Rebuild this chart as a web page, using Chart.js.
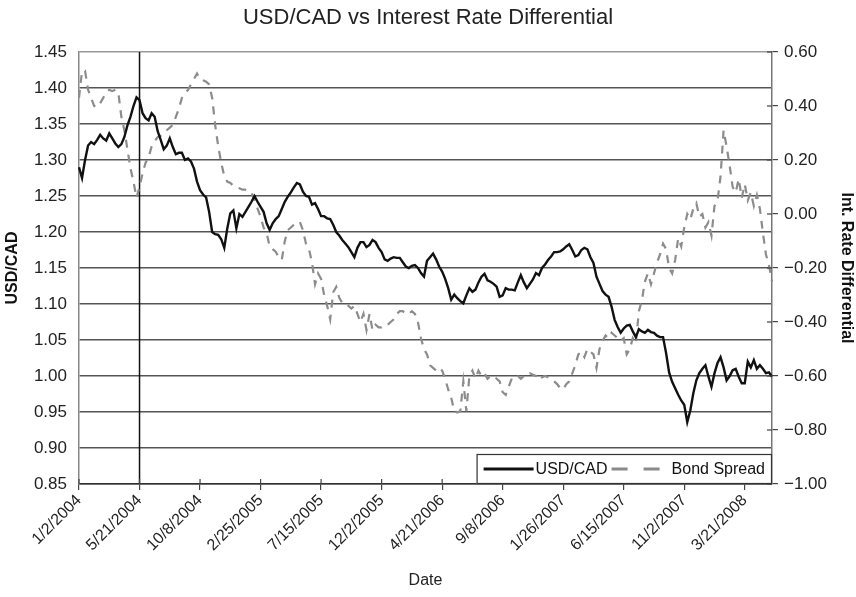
<!DOCTYPE html>
<html>
<head>
<meta charset="utf-8">
<script src="https://cdn.jsdelivr.net/npm/chart.js@4.4.1/dist/chart.umd.min.js"></script>
<style>
  html, body { margin: 0; padding: 0; background: #fff; }
  #wrap { width: 856px; height: 597px; position: relative; }
</style>
</head>
<body>
<div id="wrap"><canvas id="c" width="856" height="597"></canvas></div>
<script>
// ---- Data (weekly, starting 1/2/2004) ----
const startDate = "2004-01-02";
const tickLabels = ["1/2/2004","5/21/2004","10/8/2004","2/25/2005","7/15/2005","12/2/2005",
  "4/21/2006","9/8/2006","1/26/2007","6/15/2007","11/2/2007","3/21/2008"];
const markerLabel = "5/21/2004";

const usdCad = [
  1.290,1.275,1.300,1.320,1.325,1.322,1.328,1.335,1.330,1.327,
  1.337,1.330,1.323,1.318,1.322,1.332,1.348,1.360,1.375,1.387,
  1.383,1.365,1.358,1.355,1.365,1.360,1.340,1.328,1.315,1.320,
  1.330,1.318,1.308,1.310,1.310,1.300,1.302,1.298,1.288,1.270,
  1.258,1.252,1.248,1.228,1.200,1.197,1.196,1.190,1.178,1.205,
  1.226,1.230,1.205,1.225,1.221,1.228,1.235,1.242,1.250,1.242,
  1.235,1.228,1.212,1.203,1.212,1.218,1.222,1.232,1.242,1.249,
  1.255,1.262,1.268,1.266,1.256,1.250,1.249,1.238,1.240,1.232,
  1.222,1.222,1.219,1.218,1.210,1.200,1.195,1.189,1.184,1.179,
  1.172,1.165,1.178,1.186,1.186,1.179,1.182,1.189,1.186,1.178,
  1.172,1.162,1.160,1.163,1.165,1.164,1.164,1.158,1.152,1.150,
  1.153,1.154,1.150,1.143,1.138,1.160,1.165,1.170,1.162,1.152,
  1.145,1.135,1.122,1.106,1.113,1.108,1.104,1.101,1.112,1.122,
  1.117,1.120,1.130,1.138,1.142,1.133,1.131,1.128,1.124,1.110,
  1.112,1.122,1.120,1.120,1.119,1.130,1.140,1.130,1.122,1.128,
  1.134,1.143,1.140,1.150,1.155,1.161,1.166,1.172,1.172,1.173,
  1.176,1.180,1.183,1.175,1.166,1.168,1.175,1.178,1.176,1.165,
  1.157,1.138,1.128,1.118,1.113,1.110,1.096,1.078,1.068,1.060,
  1.066,1.070,1.071,1.062,1.054,1.065,1.062,1.060,1.064,1.061,
  1.060,1.056,1.054,1.054,1.032,1.005,0.992,0.983,0.974,0.966,
  0.960,0.936,0.952,0.976,0.994,1.004,1.010,1.015,0.999,0.985,
  1.004,1.018,1.026,1.012,0.994,1.000,1.008,1.010,0.999,0.990,
  0.990,1.020,1.012,1.022,1.010,1.015,1.010,1.004,1.005,0.999
];

const bondSpread = [
  0.43,0.53,0.53,0.46,0.43,0.40,0.395,0.41,0.43,0.45,
  0.46,0.455,0.46,0.45,0.36,0.31,0.24,0.17,0.12,0.06,
  0.10,0.15,0.19,0.21,0.25,0.27,0.285,0.29,0.30,0.31,
  0.32,0.33,0.36,0.39,0.43,0.445,0.46,0.48,0.50,0.52,
  0.50,0.495,0.49,0.48,0.43,0.33,0.25,0.19,0.14,0.12,
  0.115,0.105,0.10,0.095,0.09,0.09,0.085,0.08,0.05,0.02,
  -0.01,-0.05,-0.07,-0.12,-0.13,-0.14,-0.16,-0.17,-0.10,-0.06,
  -0.05,-0.04,-0.03,-0.03,-0.06,-0.11,-0.13,-0.18,-0.26,-0.22,
  -0.24,-0.30,-0.34,-0.39,-0.29,-0.27,-0.31,-0.33,-0.33,-0.34,
  -0.35,-0.34,-0.37,-0.40,-0.37,-0.43,-0.37,-0.43,-0.41,-0.42,
  -0.42,-0.41,-0.41,-0.40,-0.39,-0.37,-0.36,-0.36,-0.37,-0.37,
  -0.36,-0.37,-0.40,-0.46,-0.50,-0.52,-0.56,-0.57,-0.58,-0.57,
  -0.58,-0.61,-0.65,-0.68,-0.73,-0.735,-0.73,-0.62,-0.73,-0.60,
  -0.58,-0.61,-0.58,-0.60,-0.59,-0.61,-0.60,-0.60,-0.61,-0.62,
  -0.66,-0.67,-0.64,-0.61,-0.60,-0.60,-0.61,-0.60,-0.60,-0.59,
  -0.595,-0.60,-0.59,-0.605,-0.60,-0.605,-0.61,-0.62,-0.63,-0.645,
  -0.65,-0.63,-0.62,-0.59,-0.56,-0.52,-0.51,-0.53,-0.50,-0.51,
  -0.52,-0.57,-0.50,-0.47,-0.45,-0.46,-0.44,-0.45,-0.46,-0.47,
  -0.46,-0.52,-0.50,-0.46,-0.48,-0.36,-0.32,-0.25,-0.22,-0.26,
  -0.22,-0.18,-0.15,-0.11,-0.13,-0.20,-0.22,-0.17,-0.09,-0.12,
  -0.05,0.00,-0.02,0.02,0.04,-0.01,0.00,-0.05,-0.03,-0.08,
  0.03,0.05,0.14,0.31,0.25,0.18,0.10,0.08,0.13,0.06,
  0.11,0.05,0.08,0.03,0.07,0.02,-0.07,-0.15,-0.19,-0.25
];

// weekly category labels
const dates = (function () {
  const t0 = Date.parse(startDate + "T00:00:00Z");
  const out = [];
  for (let i = 0; i < usdCad.length; i++) {
    const d = new Date(t0 + i * 7 * 86400000);
    out.push((d.getUTCMonth() + 1) + "/" + d.getUTCDate() + "/" + d.getUTCFullYear());
  }
  return out;
})();

const FONT = "'Liberation Sans', Arial, Helvetica, sans-serif";
const fmtSigned = v => (v < 0 ? "\u2212" : "") + Math.abs(v).toFixed(2);

const decorPlugin = {
  id: "decor",
  beforeDatasetsDraw(chart) {
    const ctx = chart.ctx, a = chart.chartArea, xs = chart.scales.x;
    const idx = dates.indexOf(markerLabel);
    const x = xs.getPixelForValue(idx);
    ctx.save();
    ctx.strokeStyle = "#111";
    ctx.lineWidth = 1.5;
    ctx.beginPath(); ctx.moveTo(x, a.top); ctx.lineTo(x, a.bottom); ctx.stroke();
    ctx.restore();
  },
  afterDraw(chart) {
    const ctx = chart.ctx, a = chart.chartArea;
    const xs = chart.scales.x, y1 = chart.scales.y1;
    ctx.save();
    // inward tick marks on x axis and right axis
    ctx.strokeStyle = "#444"; ctx.lineWidth = 1.2;
    tickLabels.forEach(l => {
      const i = dates.indexOf(l);
      if (i < 0) return;
      const x = xs.getPixelForValue(i);
      ctx.beginPath(); ctx.moveTo(x, a.bottom); ctx.lineTo(x, a.bottom - 5); ctx.stroke();
    });
    y1.ticks.forEach(t => {
      const y = y1.getPixelForValue(t.value);
      ctx.beginPath(); ctx.moveTo(a.right, y); ctx.lineTo(a.right - 5, y); ctx.stroke();
    });
    // legend box in lower right of plot area
    ctx.font = "16px " + FONT;
    const ds = chart.data.datasets;
    const w0 = ctx.measureText(ds[0].label).width;
    const w1 = ctx.measureText(ds[1].label).width;
    const sample = 50, pad = 7, between = 4;
    const boxW = pad + sample + 2 + w0 + between + sample + 10 + w1 + pad;
    const boxH = 30;
    const bx = a.right - boxW, by = a.bottom - boxH;
    ctx.fillStyle = "#fff";
    ctx.fillRect(bx, by, boxW, boxH);
    ctx.strokeStyle = "#333"; ctx.lineWidth = 1.2;
    ctx.strokeRect(bx + 0.5, by + 0.5, boxW - 1, boxH - 1);
    const cy = by + boxH / 2;
    let cx = bx + pad;
    ctx.strokeStyle = "#111"; ctx.lineWidth = 3; ctx.setLineDash([]);
    ctx.beginPath(); ctx.moveTo(cx, cy); ctx.lineTo(cx + sample, cy); ctx.stroke();
    cx += sample + 2;
    ctx.fillStyle = "#111"; ctx.textBaseline = "middle"; ctx.textAlign = "left";
    ctx.fillText(ds[0].label, cx, cy + 1);
    cx += w0 + between;
    ctx.strokeStyle = "#8a8a8a"; ctx.lineWidth = 3; ctx.setLineDash([16, 16]);
    ctx.beginPath(); ctx.moveTo(cx, cy); ctx.lineTo(cx + sample, cy); ctx.stroke();
    ctx.setLineDash([]);
    cx += sample + 10;
    ctx.fillText(ds[1].label, cx, cy + 1);
    ctx.restore();
  }
};

new Chart(document.getElementById("c"), {
  type: "line",
  data: {
    labels: dates,
    datasets: [
      {
        label: "USD/CAD",
        data: usdCad,
        yAxisID: "y",
        borderColor: "#111",
        borderWidth: 2.4,
        pointRadius: 0,
        tension: 0,
        order: 1
      },
      {
        label: "Bond Spread",
        data: bondSpread,
        yAxisID: "y1",
        borderColor: "#8c8c8c",
        borderWidth: 2.2,
        borderDash: [8, 7],
        pointRadius: 0,
        tension: 0,
        order: 2
      }
    ]
  },
  options: {
    responsive: false,
    animation: false,
    layout: { padding: 0 },
    plugins: {
      legend: { display: false },
      tooltip: { enabled: false },
      title: {
        display: true,
        text: "USD/CAD vs Interest Rate Differential",
        color: "#222",
        font: { family: FONT, size: 22, weight: "normal" },
        padding: { top: 5, bottom: 20.6 }
      }
    },
    scales: {
      x: {
        type: "category",
        offset: false,
        afterFit(s) { s.height = 113; },
        grid: {
          drawOnChartArea: false,
          drawTicks: true,
          tickLength: 6,
          color: "#444",
          lineWidth: 1.2
        },
        border: { display: true, color: "#333", width: 1.5 },
        ticks: {
          autoSkip: false,
          minRotation: 45,
          maxRotation: 45,
          padding: 1,
          color: "#222",
          font: { family: FONT, size: 16 },
          callback(val) {
            const l = this.getLabelForValue(val);
            return tickLabels.includes(l) ? l : null;
          }
        },
        title: {
          display: true,
          text: "Date",
          color: "#222",
          font: { family: FONT, size: 16 },
          padding: { top: 4, bottom: 7 }
        }
      },
      y: {
        position: "left",
        min: 0.85,
        max: 1.45,
        afterFit(s) { s.width = 79; },
        ticks: {
          stepSize: 0.05,
          padding: 12,
          color: "#222",
          font: { family: FONT, size: 17 },
          callback: v => Number(v).toFixed(2)
        },
        grid: {
          drawTicks: false,
          color: ctx => ctx.tick && Math.abs(ctx.tick.value - 1.45) < 1e-6 ? "#999" : "#555",
          lineWidth: 1.5
        },
        border: { display: true, color: "#888", width: 1.5 },
        title: {
          display: true,
          text: "USD/CAD",
          color: "#111",
          font: { family: FONT, size: 16, weight: "bold" },
          padding: { top: 3, bottom: 0 }
        }
      },
      y1: {
        position: "right",
        min: -1.0,
        max: 0.6,
        afterFit(s) { s.width = 84; },
        ticks: {
          stepSize: 0.2,
          padding: 6,
          color: "#222",
          font: { family: FONT, size: 17 },
          callback: v => fmtSigned(Number(v))
        },
        grid: {
          drawOnChartArea: false,
          drawTicks: true,
          tickLength: 6,
          color: "#444",
          lineWidth: 1.2
        },
        border: { display: true, color: "#777", width: 1.5 },
        title: {
          display: true,
          text: "Int. Rate Differential",
          color: "#111",
          font: { family: FONT, size: 16, weight: "bold" },
          padding: { top: 0, bottom: 2 }
        }
      }
    }
  },
  plugins: [decorPlugin]
});
</script>
</body>
</html>
